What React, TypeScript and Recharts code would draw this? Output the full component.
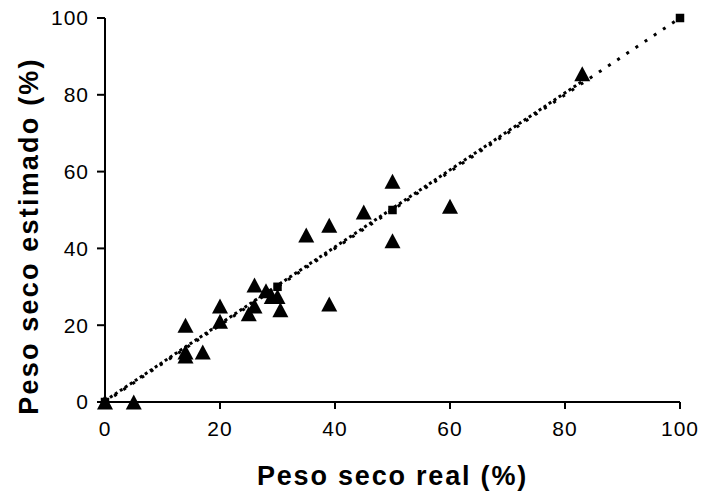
import React from 'react';
import { ScatterChart, Scatter, XAxis, YAxis } from 'recharts';

// measured points (triangles)
const estimados = [
  { x: 0, y: 0 },
  { x: 5, y: 0 },
  { x: 14, y: 20 },
  { x: 14, y: 12 },
  { x: 14, y: 13 },
  { x: 17, y: 13 },
  { x: 20, y: 25 },
  { x: 20, y: 21 },
  { x: 25, y: 23 },
  { x: 26, y: 30.5 },
  { x: 26, y: 25 },
  { x: 28, y: 29 },
  { x: 29, y: 27.5 },
  { x: 30, y: 27.5 },
  { x: 30.5, y: 24 },
  { x: 35, y: 43.5 },
  { x: 39, y: 46 },
  { x: 39, y: 25.5 },
  { x: 45, y: 49.5 },
  { x: 50, y: 57.5 },
  { x: 50, y: 42 },
  { x: 60, y: 51 },
  { x: 83, y: 85.5 },
];

// identity points (squares)
const identidad = [
  { x: 0, y: 0 },
  { x: 30, y: 30 },
  { x: 50, y: 50 },
  { x: 100, y: 100 },
];

// regression line end points
const regresion = [
  { x: 0, y: 0.3 },
  { x: 83, y: 83.5 },
];

const ticks = [0, 20, 40, 60, 80, 100];

const Triangle = (props: any) => {
  const { cx, cy } = props;
  const s = 16;
  const h = 15;
  return (
    <polygon
      points={`${cx},${cy - h / 2} ${cx + s / 2},${cy + h / 2} ${cx - s / 2},${cy + h / 2}`}
      fill="#000"
    />
  );
};

const Square = (props: any) => {
  const { cx, cy } = props;
  const s = 8.5;
  return <rect x={cx - s / 2} y={cy - s / 2} width={s} height={s} fill="#000" />;
};

const NoShape = () => <g />;

const tickStyle = { fontSize: 21, fill: '#000', letterSpacing: 1 };
const titleStyle = {
  fontSize: 27,
  fontWeight: 'bold',
  fill: '#000',
  letterSpacing: 1.8,
  textAnchor: 'middle' as const,
};

// y title, a bit below the plot centre like the original
const YTitle = (props: any) => {
  const { viewBox } = props;
  const cx = viewBox.x + 38;
  const cy = viewBox.y + viewBox.height / 2 + 26;
  return (
    <text
      x={cx}
      y={cy}
      transform={`rotate(-90, ${cx}, ${cy})`}
      style={{ ...titleStyle, letterSpacing: 2.2 }}
    >
      Peso seco estimado (%)
    </text>
  );
};

export default function App() {
  return (
    <div
      style={{
        position: 'absolute',
        left: 0,
        top: 0,
        width: 704,
        height: 495,
        background: '#fff',
        fontFamily: '"Liberation Sans", Arial, sans-serif',
      }}
    >
      <ScatterChart width={704} height={495} margin={{ top: 18, right: 24, bottom: 0, left: 0 }}>
        <XAxis
          type="number"
          dataKey="x"
          domain={[0, 100]}
          ticks={ticks}
          height={93}
          axisLine={{ stroke: '#000', strokeWidth: 2 }}
          tickLine={{ stroke: '#000', strokeWidth: 2 }}
          tickSize={7}
          tickMargin={12}
          tick={tickStyle}
          label={{ value: 'Peso seco real (%)', position: 'insideBottom', offset: 10, style: titleStyle }}
        />
        <YAxis
          type="number"
          dataKey="y"
          domain={[0, 100]}
          ticks={ticks}
          width={105}
          axisLine={{ stroke: '#000', strokeWidth: 2 }}
          tickLine={{ stroke: '#000', strokeWidth: 2 }}
          tickSize={8}
          tickMargin={8}
          tick={tickStyle}
          label={YTitle}
        />
        <Scatter
          data={regresion}
          shape={NoShape}
          line={{ stroke: '#000', strokeWidth: 3, strokeDasharray: '3 3' }}
          isAnimationActive={false}
        />
        <Scatter
          data={identidad}
          shape={Square}
          line={{ stroke: '#000', strokeWidth: 3, strokeDasharray: '3 8' }}
          isAnimationActive={false}
        />
        <Scatter data={estimados} shape={Triangle} isAnimationActive={false} />
      </ScatterChart>
    </div>
  );
}
